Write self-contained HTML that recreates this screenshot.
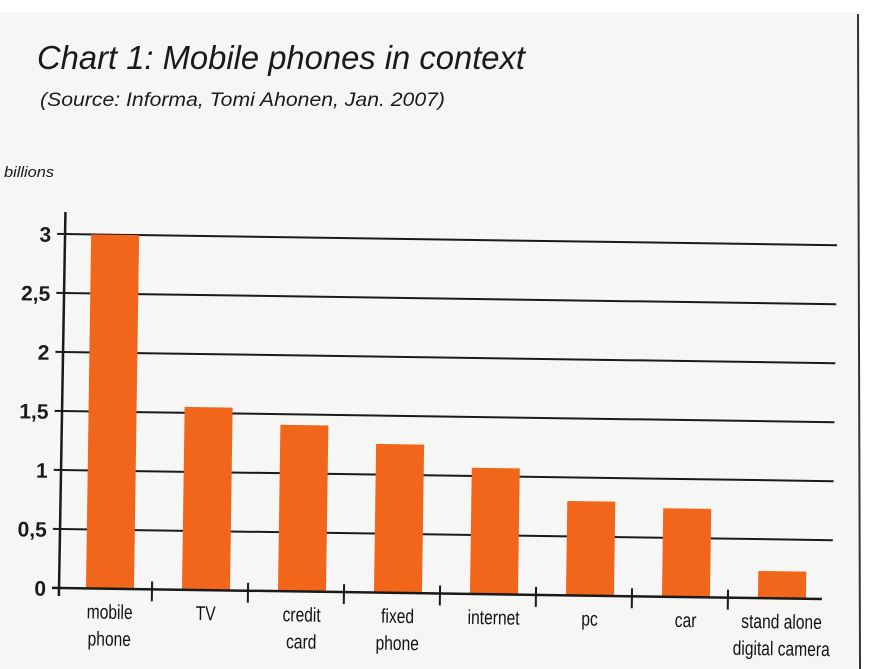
<!DOCTYPE html>
<html><head><meta charset="utf-8">
<style>
html,body{margin:0;padding:0;background:#fff;}
svg{display:block;}
text{font-family:"Liberation Sans",sans-serif;}
</style></head>
<body>
<svg id="chart" width="874" height="669" viewBox="0 0 874 669">
  <rect x="0" y="0" width="874" height="669" fill="#ffffff"/>
  <rect x="0" y="12" width="858" height="657" fill="#f6f6f4"/>
  <line x1="858" y1="14" x2="860" y2="669" stroke="#333" stroke-width="2"/>
  <text x="37" y="69" font-size="33" font-style="italic" fill="#1a1a1a" textLength="488" lengthAdjust="spacingAndGlyphs">Chart 1: Mobile phones in context</text>
  <text x="40" y="106" font-size="19" font-style="italic" fill="#1a1a1a" textLength="405" lengthAdjust="spacingAndGlyphs">(Source: Informa, Tomi Ahonen, Jan. 2007)</text>
  <text x="4" y="177" font-size="15" font-style="italic" fill="#1a1a1a" textLength="50" lengthAdjust="spacingAndGlyphs">billions</text>
  <g id="plot" transform="rotate(0.83 60 588)"></g>
</svg>
<script>
const categories = ["mobile phone","TV","credit card","fixed phone","internet","pc","car","stand alone digital camera"];
const labelLines = [["mobile","phone"],["TV"],["credit","card"],["fixed","phone"],["internet"],["pc"],["car"],["stand alone","digital camera"]];
const values = [3.0, 1.55, 1.41, 1.26, 1.07, 0.8, 0.75, 0.23];
const yTicks = [0, 0.5, 1, 1.5, 2, 2.5, 3];
const yTickLabels = ["0","0,5","1","1,5","2","2,5","3"];

const NS = "http://www.w3.org/2000/svg";
const g = document.getElementById("plot");
const x0 = 60, y0 = 588, pxPerUnit = 118, band = 96, barW = 48, plotRight = 832;
function yScale(v){ return y0 - v * pxPerUnit; }
function xCenter(i){ return x0 + 50 + i * band; }
function mk(tag, attrs){ const e = document.createElementNS(NS, tag); for (const k in attrs) e.setAttribute(k, attrs[k]); g.appendChild(e); return e; }

yTicks.forEach((t, i) => {
  const y = yScale(t);
  if (t > 0) {
    const gl = mk("line", {x1: x0 - 8, y1: y, x2: plotRight, y2: y, stroke: "#1a1a1a", "stroke-width": 2});
    
    
  }
  const tx = mk("text", {x: 46, y: y + 8, "font-size": 21, "font-weight": "bold", fill: "#1a1a1a", "text-anchor": "end"});
  tx.textContent = yTickLabels[i];
  
  
});

values.forEach((v, i) => {
  const cx = xCenter(i);
  const r = mk("rect", {x: cx - barW / 2, y: yScale(v), width: barW, height: y0 - yScale(v), fill: "#f2661c"});
  
  
  labelLines[i].forEach((ln, j) => {
    const t = mk("text", {x: cx, y: y0 + 30 + j * 27, "font-size": 20, fill: "#111", "text-anchor": "middle"});
    t.setAttribute("transform", "scale(0.78 1)");
    t.setAttribute("x", cx / 0.78);
    t.textContent = ln;
    
    
  });
  if (i < values.length - 1) {
    const tk = mk("line", {x1: cx + 42, y1: y0 - 8, x2: cx + 42, y2: y0 + 12, stroke: "#1a1a1a", "stroke-width": 2});
    
    
  }
});

const ya = mk("line", {x1: x0, y1: 212, x2: x0 - 1, y2: y0 + 8, stroke: "#1a1a1a", "stroke-width": 2.5});


const xa = mk("line", {x1: x0 - 8, y1: y0, x2: plotRight - 10, y2: y0, stroke: "#1a1a1a", "stroke-width": 2.5});


</script>
</body></html>
